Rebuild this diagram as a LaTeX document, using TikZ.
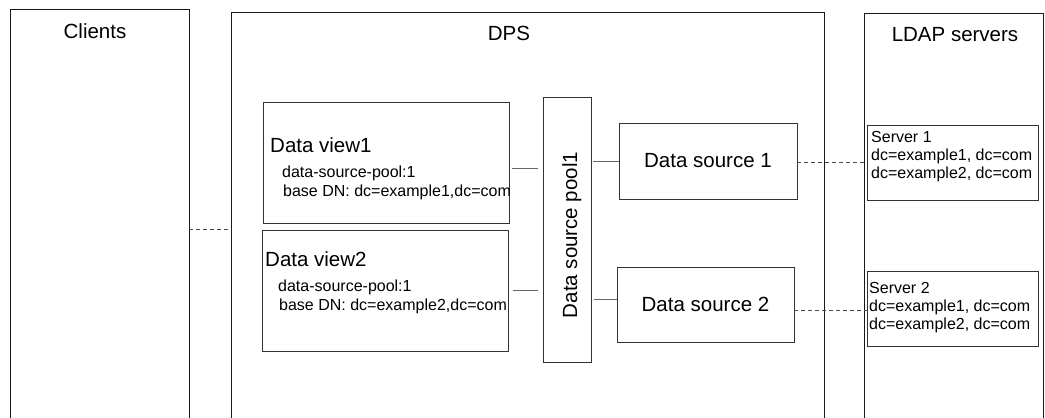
\documentclass[tikz,border=0pt]{standalone}
\usepackage{fontspec}
\setmainfont{Liberation Sans}
\begin{document}
\begin{tikzpicture}[x=1pt,y=-1pt,
  frame/.style={draw=black!90, line width=1pt, inner sep=0pt, outer sep=0pt, anchor=north west},
  box/.style={draw=black!80, line width=1pt, inner sep=0pt, outer sep=0pt, anchor=north west},
  link/.style={draw=black!60, line width=1pt},
  dlink/.style={draw=black!70, line width=1pt, dash pattern=on 4pt off 3pt},
  big/.style={font=\fontsize{20.5}{24}\selectfont, inner sep=0pt},
  small/.style={font=\fontsize{16}{19}\selectfont, inner sep=0pt, anchor=base west}]
\useasboundingbox (0,0) rectangle (1045,418);
\fill[white] (0,0) rectangle (1045,418);
\clip (0,0) rectangle (1045,418);

% containers (open at the bottom: they run past the picture's edge)
\node[frame, minimum width=179pt, minimum height=440pt] (clients) at (10,9) {};
\node[frame, minimum width=593pt, minimum height=440pt] (dps) at (231,12) {};
\node[frame, minimum width=179pt, minimum height=440pt] (ldap) at (864,13) {};

\node[big, anchor=base] (tclients) at (95,38) {Clients};
\node[big, anchor=base] (tdps) at (509,40) {DPS};
\node[big, anchor=base] (tldap) at (955,41) {LDAP servers};

% data views
\node[box, minimum width=246pt, minimum height=121pt] (dv1) at (263,102) {};
\node[box, minimum width=246pt, minimum height=121pt] (dv2) at (262,230) {};
\node[big, anchor=base west] (tdv1) at (270,152) {Data view1};
\node[small] (dv1a) at (282,177) {data-source-pool:1};
\node[small] (dv1b) at (283,196) {base DN: dc=example1,dc=com};
\node[big, anchor=base west] (tdv2) at (265,266) {Data view2};
\node[small] (dv2a) at (278,291) {data-source-pool:1};
\node[small] (dv2b) at (279,310) {base DN: dc=example2,dc=com};

% pool
\node[box, minimum width=48pt, minimum height=265pt] (pool) at (543,97) {};
\node[big, anchor=base, rotate=90] (tpool) at (577,235) {Data source pool1};

% data sources
\node[box, minimum width=178pt, minimum height=76pt, font=\fontsize{20.5}{24}\selectfont] (ds1) at (619,123) {Data source 1};
\node[box, minimum width=177pt, minimum height=75pt, font=\fontsize{20.5}{24}\selectfont] (ds2) at (617,267) {Data source 2};

% servers
\node[box, minimum width=171pt, minimum height=75pt] (s1) at (867,125) {};
\node[box, minimum width=171pt, minimum height=75pt] (s2) at (867,271) {};
\node[small] (s1a) at (871,142) {Server 1};
\node[small] (s1b) at (871,160) {dc=example1, dc=com};
\node[small] (s1c) at (871,178) {dc=example2, dc=com};
\node[small] (s2a) at (869,293) {Server 2};
\node[small] (s2b) at (869,311) {dc=example1, dc=com};
\node[small] (s2c) at (869,329) {dc=example2, dc=com};

% connector levels
\coordinate (yc) at (0,229);
\coordinate (y1) at (0,168);
\coordinate (y2) at (0,290);
\coordinate (y3) at (0,161);
\coordinate (y4) at (0,299);
\coordinate (y5) at (0,162);
\coordinate (y6) at (0,310);

\draw[dlink] (clients.east |- yc) -- (dps.west |- yc);
\draw[link, shorten <=3pt, shorten >=5pt] (dv1.east |- y1) -- (pool.west |- y1);
\draw[link, shorten <=5pt, shorten >=5pt] (dv2.east |- y2) -- (pool.west |- y2);
\draw[link, shorten <=2pt] (pool.east |- y3) -- (ds1.west |- y3);
\draw[link, shorten <=3pt] (pool.east |- y4) -- (ds2.west |- y4);
\draw[dlink] (ds1.east |- y5) -- (s1.west |- y5);
\draw[dlink] (ds2.east |- y6) -- (s2.west |- y6);
\end{tikzpicture}
\end{document}
